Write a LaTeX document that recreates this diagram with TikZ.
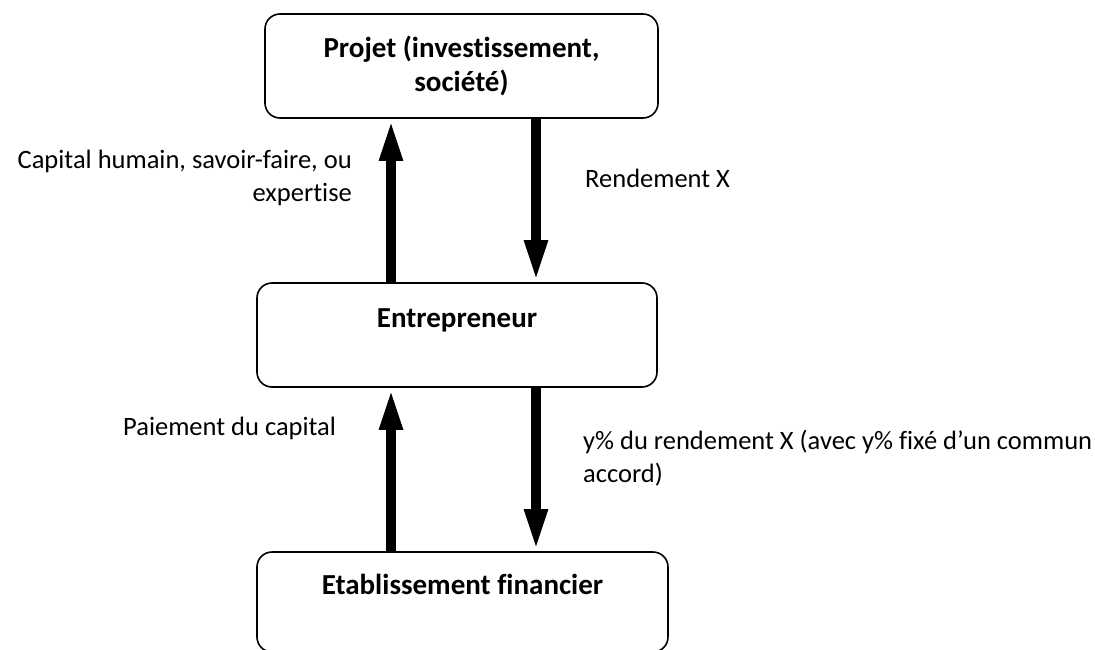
\documentclass[tikz,border=0pt]{standalone}
\usepackage{fontspec}
\setmainfont[Ligatures=NoCommon]{Carlito}
\usetikzlibrary{arrows.meta}

\begin{document}
\begin{tikzpicture}[
        x=1pt, y=-1pt,
        bloc/.style={draw, line width=1.6pt, rounded corners=15pt, inner sep=0pt,
            align=center, font=\fontsize{29}{34}\selectfont\bfseries},
        flux/.style={line width=10pt, -{Triangle[width=21pt, length=42pt]}},
        legende/.style={inner sep=0pt, font=\fontsize{26.5}{33}\selectfont}
    ]
        \useasboundingbox (0,0) rectangle (1095,650);

        % Boxes (text sits near the top of the two lower boxes)
        \node[bloc, minimum width=393pt, minimum height=104pt] (projet) at (461.5,66) {Projet (investissement,\\société)};
        \node[bloc, minimum width=400pt, text height=44pt, text depth=60pt] (entre) at (457,335) {Entrepreneur};
        \node[bloc, minimum width=411pt, text height=42pt, text depth=58pt] (etab) at (462.5,602) {Etablissement financier};

        % Columns of the arrows
        \coordinate (gauche) at (391,0);
        \coordinate (droite) at (536,0);

        % Flows between the boxes
        \draw[flux] (gauche |- entre.north) -- (gauche |- projet.south);
        \draw[flux] (droite |- projet.south) -- (droite |- entre.north);
        \draw[flux] (gauche |- etab.north) -- (gauche |- entre.south);
        \draw[flux] (droite |- entre.south) -- (droite |- etab.north);

        % Labels of the flows
        \node[legende, align=right, anchor=east] (capital) at (352,178) {Capital humain, savoir-faire, ou\\expertise};
        \node[legende, anchor=west] (rendement) at (585,178) {Rendement X};
        \node[legende, anchor=west] (paiement) at (123,428) {Paiement du capital};
        \node[legende, align=left, anchor=west] (part) at (583,458) {y\% du rendement X (avec y\% fixé d’un commun\\accord)};
    \end{tikzpicture}
\end{document}
